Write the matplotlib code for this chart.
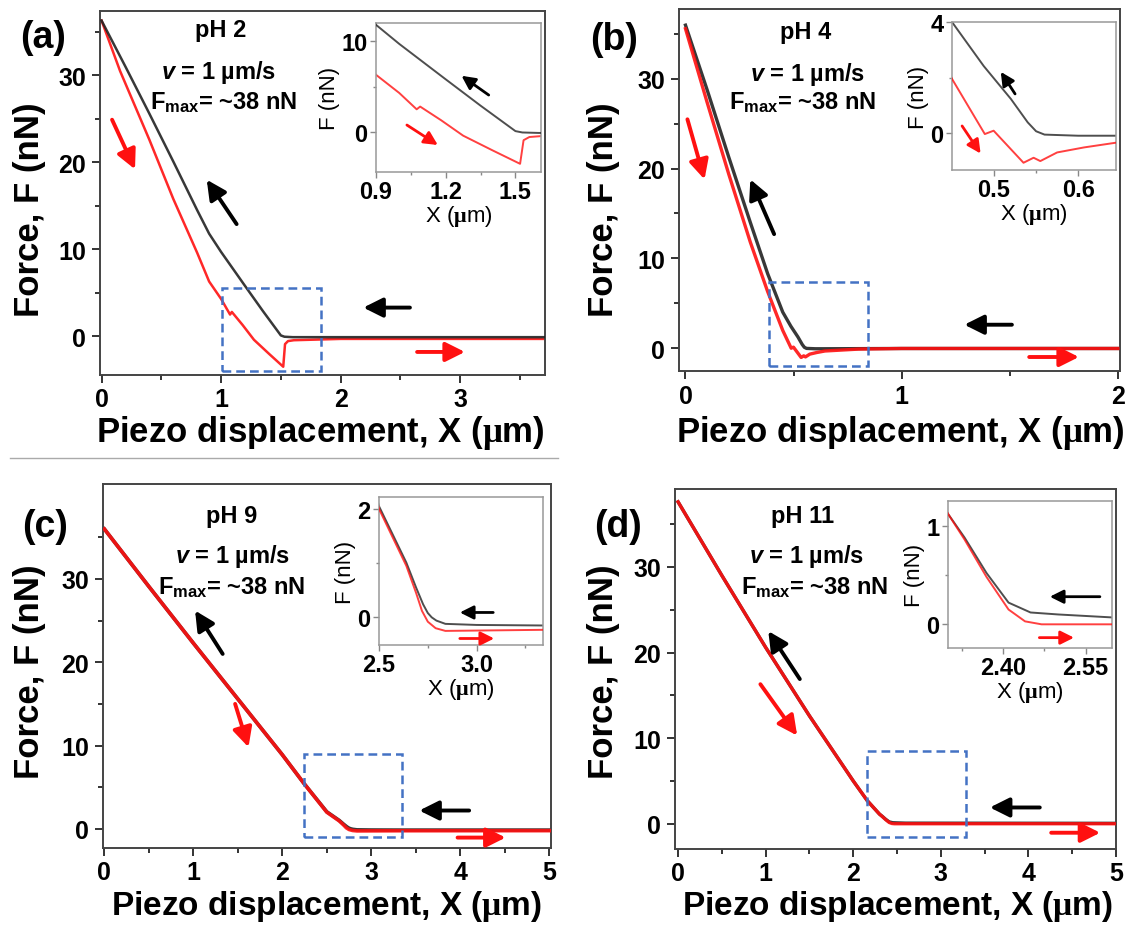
import matplotlib
matplotlib.use("Agg")
import matplotlib.pyplot as plt
from matplotlib.patches import Rectangle
from matplotlib.lines import Line2D
from matplotlib.ticker import FixedLocator

plt.rcParams['font.family'] = ['Liberation Sans', 'DejaVu Sans']
plt.rcParams['font.weight'] = 'bold'
plt.rcParams['mathtext.fontset'] = 'custom'
plt.rcParams['mathtext.rm'] = 'Liberation Sans:bold'
plt.rcParams['mathtext.bf'] = 'Liberation Sans:bold'
plt.rcParams['mathtext.it'] = 'Liberation Sans:bold:italic'
plt.rcParams['mathtext.sf'] = 'Liberation Serif'

# ---------------- force curves (x in um, F in nN) ----------------
# pH 2
xa_ret = [0, 0.2, 0.4, 0.6, 0.7, 0.8, 0.9, 1.0, 1.2, 1.35, 1.5, 1.53, 1.6,
          2.5, 3.7]
fa_ret = [36.3, 31.0, 25.6, 20.1, 17.3, 14.5, 11.8, 9.7, 5.8, 2.9, 0.1,
          -0.05, -0.1, -0.1, -0.1]
xa_app = [0, 0.155, 0.4, 0.6, 0.8, 0.9, 1.0, 1.075, 1.09, 1.18, 1.275, 1.4,
          1.52, 1.535, 1.56, 1.61, 2.0, 3.7]
fa_app = [36.3, 30.5, 22.6, 15.8, 9.6, 6.3, 4.3, 2.5, 2.8, 1.3, -0.4, -2.0,
          -3.5, -0.9, -0.55, -0.45, -0.3, -0.3]

# pH 4
xb_ret = [0, 0.1, 0.2, 0.3, 0.38, 0.45, 0.4877, 0.52, 0.54, 0.55, 0.56, 0.6,
          0.645, 1.0, 2.0]
fb_ret = [36.0, 28.8, 21.3, 14.0, 8.3, 4.0, 2.42, 1.24, 0.4, 0.08, -0.04,
          -0.08, -0.08, -0.05, -0.05]
xb_app = [0, 0.1, 0.2, 0.3, 0.38, 0.45, 0.489, 0.4995, 0.535, 0.547, 0.555,
          0.575, 0.607, 0.645, 0.8, 1.0, 2.0]
fb_app = [35.6, 27.4, 19.4, 11.8, 6.3, 1.96, -0.02, 0.1, -1.05, -0.87, -0.99,
          -0.68, -0.5, -0.33, -0.12, -0.05, -0.05]

# pH 9
xc_ret = [0, 0.5, 1.0, 1.5, 2.0, 2.24, 2.5, 2.64, 2.69, 2.726, 2.75, 2.77,
          2.794, 2.84, 3.0, 3.34, 5.0]
fc_ret = [36.0, 29.1, 22.3, 15.6, 8.9, 5.5, 2.05, 1.01, 0.55, 0.24, 0.08,
          0.0, -0.06, -0.12, -0.14, -0.15, -0.15]
xc_app = [0, 0.5, 1.0, 1.5, 2.0, 2.24, 2.5, 2.64, 2.69, 2.72, 2.75, 2.79,
          2.84, 3.34, 5.0]
fc_app = [36.0, 29.1, 22.3, 15.6, 8.9, 5.5, 2.0, 0.95, 0.45, 0.12, -0.08,
          -0.2, -0.25, -0.23, -0.22]

# pH 11
xd_ret = [0, 0.5, 1.0, 1.5, 2.0, 2.16, 2.30, 2.33, 2.37, 2.41, 2.45, 2.5,
          2.598, 5.0]
fd_ret = [37.6, 29.0, 20.6, 12.6, 5.0, 2.7, 1.12, 0.88, 0.52, 0.22, 0.12,
          0.1, 0.07, 0.05]
xd_app = [0, 0.5, 1.0, 1.5, 2.0, 2.16, 2.30, 2.33, 2.37, 2.41, 2.44, 2.47,
          2.598, 5.0]
fd_app = [37.6, 29.0, 20.6, 12.6, 5.0, 2.7, 1.12, 0.86, 0.48, 0.15, 0.03,
          0.0, 0.0, 0.0]

ph_labels = ['pH 2', 'pH 4', 'pH 9', 'pH 11']
panel_tags = ['(a)', '(b)', '(c)', '(d)']

W, H = 1126, 928
BLUE = '#4472c4'
BLACK = '#222222'
RED = '#ff1010'


def rect(l, r, t, b):
    return [l / W, 1 - b / H, (r - l) / W, (b - t) / H]


def fpos(x, y):
    return x / W, 1 - y / H


panels = [
    dict(main=rect(100, 545, 12, 376), ins=rect(376, 541, 24, 173),
         xlim=(-0.013, 3.71), ylim=(-4.45, 37.4),
         xt=[0, 1, 2, 3], xmin=[0.5, 1.5, 2.5, 3.5],
         ixlim=(0.9, 1.61), iylim=(-4.4, 12.0), ixt=[0.9, 1.2, 1.5],
         ixmin=[1.05, 1.35], iyt=[0, 10], iymin=[5], ixfmt='%.1f',
         box=(1.006, 1.834, -4.0, 5.6),
         data=(xa_app, fa_app, xa_ret, fa_ret), red_top=False, lw=1.8,
         arrows=[((0.088, 24.9), (0.28, 19.2), RED),
                 ((1.13, 12.9), (0.88, 18.0), 'k'),
                 ((2.58, 3.3), (2.19, 3.3), 'k'),
                 ((2.64, -1.8), (3.04, -1.8), RED)],
         iarrows=[((1.385, 4.07), (1.268, 6.19), 'k'),
                  ((1.033, 0.77), (1.166, -1.43), RED)],
         txt=[(221, 31), (219, 73), (224, 103)], tag=(43, 38),
         ylab=(30, 210), xlab=(320, 433), xlfs=25),
    dict(main=rect(679, 1120, 10, 372), ins=rect(952, 1116, 23, 171),
         xlim=(-0.03, 2.01), ylim=(-2.56, 37.8),
         xt=[0, 1, 2], xmin=[0.5, 1.5],
         ixlim=(0.45, 0.645), iylim=(-1.31, 4.0), ixt=[0.5, 0.6],
         ixmin=[0.55], iyt=[0, 4], iymin=[2], ixfmt='%.1f',
         box=(0.386, 0.844, -2.04, 7.4),
         data=(xb_app, fb_app, xb_ret, fb_ret), red_top=True, lw=2.4,
         arrows=[((0.009, 25.5), (0.088, 18.8), RED),
                 ((0.41, 12.7), (0.30, 18.8), 'k'),
                 ((1.51, 2.6), (1.29, 2.6), 'k'),
                 ((1.59, -1.0), (1.82, -1.0), RED)],
         iarrows=[((0.525, 1.42), (0.508, 2.21), 'k'),
                  ((0.462, 0.27), (0.484, -0.72), RED)],
         txt=[(806, 33), (808, 74), (803, 103)], tag=(614, 40),
         ylab=(604, 210), xlab=(900, 433), xlfs=25),
    dict(main=rect(103, 551, 485, 849), ins=rect(379, 543, 498, 646),
         xlim=(-0.015, 5.02), ylim=(-2.3, 41.4),
         xt=[0, 1, 2, 3, 4, 5], xmin=[0.5, 1.5, 2.5, 3.5, 4.5],
         ixlim=(2.5, 3.34), iylim=(-0.51, 2.22), ixt=[2.5, 3.0],
         ixmin=[2.75, 3.25], iyt=[0, 2], iymin=[1], ixfmt='%.1f',
         box=(2.24, 3.34, -0.95, 9.0),
         data=(xc_app, fc_app, xc_ret, fc_ret), red_top=True, lw=2.6,
         arrows=[((1.33, 21.0), (1.02, 26.2), 'k'),
                 ((1.47, 15.0), (1.62, 9.8), RED),
                 ((4.10, 2.2), (3.54, 2.2), 'k'),
                 ((3.97, -1.05), (4.51, -1.05), RED)],
         iarrows=[((3.085, 0.09), (2.914, 0.09), 'k'),
                  ((2.914, -0.39), (3.09, -0.39), RED)],
         txt=[(232, 517), (233, 557), (232, 588)], tag=(45, 527),
         ylab=(30, 672), xlab=(326, 907), xlfs=24),
    dict(main=rect(675, 1116, 490, 850), ins=rect(948, 1112, 502, 649),
         xlim=(-0.035, 5.0), ylim=(-2.95, 39.1),
         xt=[0, 1, 2, 3, 4, 5], xmin=[0.5, 1.5, 2.5, 3.5, 4.5],
         ixlim=(2.30, 2.598), iylim=(-0.24, 1.25), ixt=[2.40, 2.55],
         ixmin=[2.325, 2.475], iyt=[0, 1], iymin=[0.5], ixfmt='%.2f',
         box=(2.16, 3.29, -1.6, 8.5),
         data=(xd_app, fd_app, xd_ret, fd_ret), red_top=True, lw=2.4,
         arrows=[((1.39, 16.9), (1.03, 22.5), 'k'),
                 ((0.94, 16.3), (1.36, 10.3), RED),
                 ((4.13, 1.9), (3.56, 1.9), 'k'),
                 ((4.26, -1.05), (4.82, -1.05), RED)],
         iarrows=[((2.576, 0.28), (2.485, 0.28), 'k'),
                  ((2.466, -0.135), (2.529, -0.135), RED)],
         txt=[(803, 517), (807, 557), (815, 588)], tag=(618, 527),
         ylab=(604, 672), xlab=(897, 907), xlfs=24),
]

fig = plt.figure(figsize=(W / 100, H / 100), dpi=100)


def arrow(ax, tail, head, color, lw, ms):
    ax.annotate('', xy=head, xytext=tail,
                arrowprops=dict(arrowstyle='-|>,head_length=0.9,head_width=0.45',
                                lw=lw, color=color, shrinkA=0, shrinkB=0,
                                mutation_scale=ms), zorder=6)


for i, p in enumerate(panels):
    xapp, fapp, xret, fret = p['data']
    ax = fig.add_axes(p['main'])
    z_red, z_blk = (3, 2) if p['red_top'] else (2, 3)
    ax.plot(xapp, fapp, color=RED, lw=p['lw'], zorder=z_red, alpha=0.9)
    ax.plot(xret, fret, color=BLACK, lw=p['lw'], zorder=z_blk, alpha=0.9)
    ax.set_xlim(*p['xlim'])
    ax.set_ylim(*p['ylim'])
    ax.xaxis.set_major_locator(FixedLocator(p['xt']))
    ax.xaxis.set_minor_locator(FixedLocator(p['xmin']))
    ax.yaxis.set_major_locator(FixedLocator([0, 10, 20, 30]))
    ax.yaxis.set_minor_locator(FixedLocator([5, 15, 25, 35]))
    ax.tick_params(which='both', direction='out', width=1.4, colors='#333333',
                   labelcolor='black', labelsize=18)
    ax.tick_params(which='major', length=6, pad=4)
    ax.tick_params(which='minor', length=3.5)
    ax.tick_params(axis='x', which='major', pad=3)
    for s in ax.spines.values():
        s.set_color('#444444')
        s.set_linewidth(1.4)
    x0, x1, y0, y1 = p['box']
    ax.add_patch(Rectangle((x0, y0), x1 - x0, y1 - y0, fill=False,
                           ec=BLUE, lw=1.8, ls=(0, (3.5, 2)), zorder=5))
    for tail, head, c in p['arrows']:
        arrow(ax, tail, head, c, 2.8, 13)

    # inset
    ia = fig.add_axes(p['ins'])
    ia.plot(xapp, fapp, color=RED, lw=1.4, zorder=z_red, alpha=0.8)
    ia.plot(xret, fret, color=BLACK, lw=1.4, zorder=z_blk, alpha=0.8)
    ia.set_xlim(*p['ixlim'])
    ia.set_ylim(*p['iylim'])
    ia.xaxis.set_major_locator(FixedLocator(p['ixt']))
    ia.xaxis.set_minor_locator(FixedLocator(p['ixmin']))
    ia.yaxis.set_major_locator(FixedLocator(p['iyt']))
    ia.yaxis.set_minor_locator(FixedLocator(p['iymin']))
    ia.set_xticklabels([p['ixfmt'] % v for v in p['ixt']])
    ia.set_yticklabels(['%g' % v for v in p['iyt']])
    ia.tick_params(which='both', direction='out', width=1.0, colors='#888888',
                   labelcolor='black', labelsize=17, pad=2)
    ia.tick_params(which='major', length=4)
    ia.tick_params(which='minor', length=2.5)
    for s in ia.spines.values():
        s.set_color('#999999')
        s.set_linewidth(1.1)
    ia.set_xlabel(r'X ($\mathsf{\mu}$m)', fontsize=16, labelpad=0)
    ia.set_ylabel('F (nN)', fontsize=16, labelpad=1)
    for tail, head, c in p['iarrows']:
        arrow(ia, tail, head, c, 2.0, 9)

    # annotations
    (tx0, ty0), (tx1, ty1), (tx2, ty2) = p['txt']
    fig.text(*fpos(tx0, ty0), ph_labels[i], fontsize=17, ha='center', va='center')
    fig.text(*fpos(tx1, ty1), r'$\it{v}$ = 1 µm/s', fontsize=17,
             ha='center', va='center')
    fig.text(*fpos(tx2, ty2), r'F$_{\rm max}$= ~38 nN', fontsize=17,
             ha='center', va='center')
    fig.text(*fpos(*p['tag']), panel_tags[i], fontsize=27, ha='center',
             va='center')
    fig.text(*fpos(*p['ylab']), 'Force, F (nN)', fontsize=25, rotation=90,
             ha='center', va='center')
    fig.text(*fpos(*p['xlab']), r'Piezo displacement, X ($\mathsf{\mu}$m)',
             fontsize=p['xlfs'], ha='center', va='center')

# thin rule under the top-left panel
fig.add_artist(Line2D([10 / W, 558 / W], [1 - 459 / H, 1 - 459 / H],
                      color='#aaaaaa', lw=1.0))

fig.savefig('out.png', dpi=100)
